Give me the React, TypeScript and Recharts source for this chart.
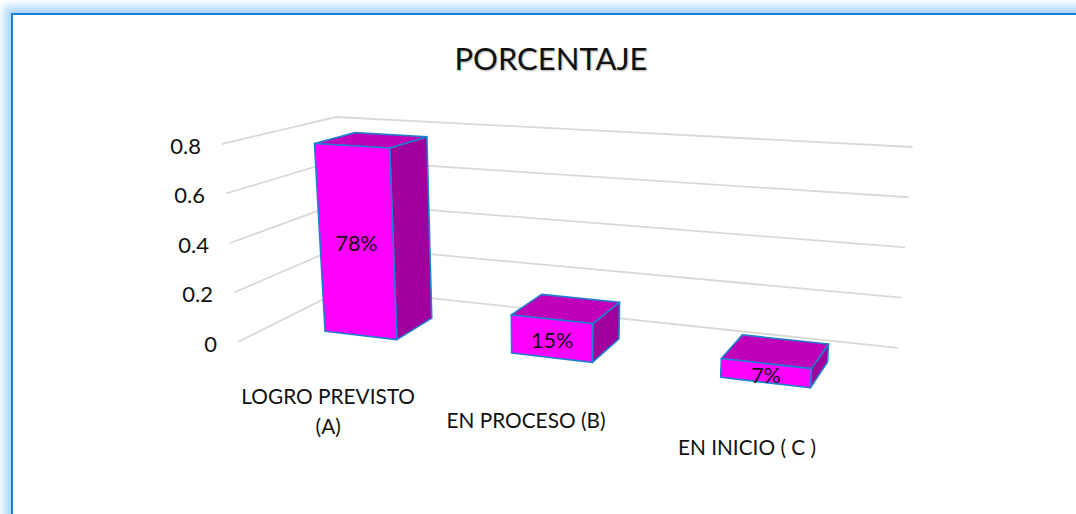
import React from 'react';
import { BarChart, Bar, XAxis, YAxis, CartesianGrid } from 'recharts';

const categories = ['LOGRO PREVISTO (A)', 'EN PROCESO (B)', 'EN INICIO ( C )'];
const categoryLines = [['LOGRO PREVISTO', '(A)'], ['EN PROCESO (B)'], ['EN INICIO ( C )']];
const values = [0.78, 0.15, 0.07];
const percentLabels = ['78%', '15%', '7%'];
const yTicks = [0, 0.2, 0.4, 0.6, 0.8];

const data = categories.map((name, i) => ({ name, value: values[i], label: percentLabels[i] }));

const FONT = 'Lato, "Open Sans", sans-serif';

// Plot rectangle that Recharts lays out, used to normalise its pixels before the 3D projection
const MARGIN = { top: 120, right: 200, bottom: 80, left: 100 };
const Y_AXIS_W = 100;
const X_AXIS_H = 60;
const CHART_W = 1076;
const CHART_H = 514;
const PLOT_LEFT = MARGIN.left + Y_AXIS_W;
const PLOT_W = CHART_W - PLOT_LEFT - MARGIN.right;
const PLOT_TOP = MARGIN.top;
const PLOT_H = CHART_H - MARGIN.top - MARGIN.bottom - X_AXIS_H;

// Screen corners of the 3D box: first letter front/back, second left/right, third bottom/top
const FLB = [238, 342];
const FRB = [860, 417];
const BLB = [344, 289];
const BRB = [898, 348];
const FLT = [222, 144];
const FRT = [876, 185];
const BLT = [336, 117];
const BRT = [913, 147];

// bars sit inside the depth of the floor
const BAR_FRONT = 0.32;
const BAR_BACK = 0.7;
const BAR_SHIFT = 0.003;
// where warp() reaches the right wall
const GRID_END = 0.991;

const mix = (a: number[], b: number[], t: number) => [a[0] + (b[0] - a[0]) * t, a[1] + (b[1] - a[1]) * t];

// perspective makes the right side of the x axis wider
const warp = (t: number) => 0.842 * t + 0.168 * t * t;

// t: 0..1 along categories, v: 0..1 up the value axis, d: 0 front .. 1 back
function project(t: number, v: number, d: number) {
  const u = warp(t);
  const bottom = mix(mix(FLB, FRB, u), mix(BLB, BRB, u), d);
  const top = mix(mix(FLT, FRT, u), mix(BLT, BRT, u), d);
  return mix(bottom, top, v);
}

const toT = (x: number) => (x - PLOT_LEFT) / PLOT_W;
const toV = (y: number) => (PLOT_TOP + PLOT_H - y) / PLOT_H;
const pts = (list: number[][]) => list.map((p) => p.join(',')).join(' ');

function GridLine(props: any) {
  const v = toV(props.y1);
  const line = [project(0, v, 0), project(0, v, 1), project(GRID_END, v, 1)];
  return <polyline key={props.index} points={pts(line)} fill="none" stroke="#d9d9d9" strokeWidth={1.8} />;
}

function Box3D(props: any) {
  const { x, y, width, height, payload } = props;
  const t0 = toT(x) + BAR_SHIFT;
  const t1 = toT(x + width) + BAR_SHIFT;
  const v1 = toV(y);
  const v0 = toV(y + height);
  const fbl = project(t0, v0, BAR_FRONT);
  const fbr = project(t1, v0, BAR_FRONT);
  const ftl = project(t0, v1, BAR_FRONT);
  const ftr = project(t1, v1, BAR_FRONT);
  const bbr = project(t1, v0, BAR_BACK);
  const btl = project(t0, v1, BAR_BACK);
  const btr = project(t1, v1, BAR_BACK);
  const edge = { stroke: '#1f7fd0', strokeWidth: 1.6, strokeLinejoin: 'round' as const };
  const cx = (fbl[0] + fbr[0] + ftl[0] + ftr[0]) / 4;
  const cy = (fbl[1] + fbr[1] + ftl[1] + ftr[1]) / 4;
  return (
    <g>
      <polygon points={pts([ftr, btr, bbr, fbr])} fill="#a0009c" {...edge} />
      <polygon points={pts([ftl, ftr, btr, btl])} fill="#c000b8" {...edge} />
      <polygon points={pts([fbl, fbr, ftr, ftl])} fill="#ff00ff" {...edge} />
      <text x={cx} y={cy + 2} textAnchor="middle" dominantBaseline="central" fontFamily={FONT} fontSize={21.5} fill="#111">
        {payload.label}
      </text>
    </g>
  );
}

function ValueTick(props: any) {
  const { y, payload } = props;
  const p = project(0, toV(y), 0);
  return (
    <text x={p[0] - 21} y={p[1] + 1} textAnchor="end" dominantBaseline="central" fontFamily={FONT} fontSize={22} fill="#111">
      {String(payload.value)}
    </text>
  );
}

function CategoryTick(props: any) {
  const { x, payload } = props;
  const p = project(toT(x), 0, 0);
  const lines = categoryLines[categories.indexOf(payload.value)];
  return (
    <g>
      {lines.map((line, i) => (
        <text
          key={line}
          x={p[0]}
          y={p[1] + 43 + i * 30}
          textAnchor="middle"
          dominantBaseline="central"
          fontFamily={FONT}
          fontSize={20.8}
          fill="#111"
        >
          {line}
        </text>
      ))}
    </g>
  );
}

export default function App() {
  return (
    <div style={{ position: 'absolute', top: 0, left: 0, width: CHART_W, height: CHART_H, overflow: 'hidden', background: '#fff' }}>
      <div
        style={{
          position: 'absolute',
          left: 11,
          top: 13,
          width: CHART_W + 40,
          height: CHART_H + 40,
          boxSizing: 'border-box',
          border: '2px solid #1a7fd6',
          background: '#fff',
          boxShadow: '0 0 8px 7px #b0d8fb',
        }}
      />
      <div
        style={{
          position: 'absolute',
          left: 0,
          width: 1102,
          top: 37,
          textAlign: 'center',
          fontFamily: FONT,
          fontSize: 31,
          color: '#111',
          lineHeight: '42px',
          textShadow: '1px 1px 2px rgba(0,0,0,0.3)',
        }}
      >
        PORCENTAJE
      </div>
      <div style={{ position: 'absolute', left: 0, top: 0 }}>
        <BarChart width={CHART_W} height={CHART_H} data={data} margin={MARGIN} barCategoryGap="30%">
          <CartesianGrid vertical={false} horizontal={GridLine as any} />
          <XAxis dataKey="name" height={X_AXIS_H} axisLine={false} tickLine={false} interval={0} tick={CategoryTick as any} />
          <YAxis width={Y_AXIS_W} domain={[0, 0.8]} ticks={yTicks} axisLine={false} tickLine={false} tick={ValueTick as any} />
          <Bar dataKey="value" shape={Box3D as any} isAnimationActive={false} />
        </BarChart>
      </div>
    </div>
  );
}
